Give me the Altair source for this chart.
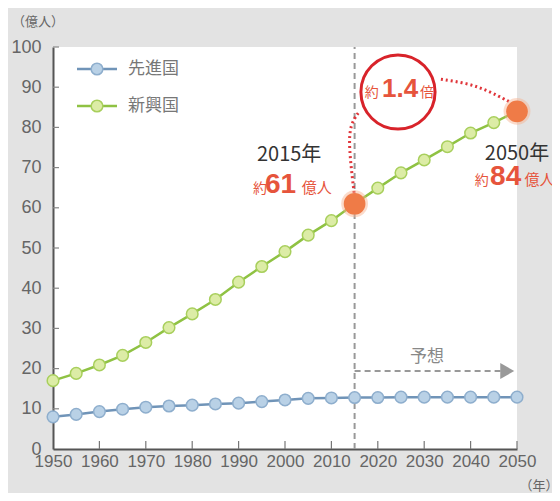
import altair as alt
import pandas as pd

years = [1950, 1955, 1960, 1965, 1970, 1975, 1980, 1985, 1990, 1995, 2000,
         2005, 2010, 2015, 2020, 2025, 2030, 2035, 2040, 2045, 2050]
developed = [8.0, 8.6, 9.3, 9.9, 10.4, 10.7, 10.9, 11.2, 11.4, 11.8, 12.2,
             12.6, 12.7, 12.8, 12.8, 12.9, 12.9, 12.9, 12.9, 12.9, 12.9]
emerging = [17.0, 18.8, 20.9, 23.3, 26.5, 30.2, 33.6, 37.2, 41.5, 45.4, 49.1,
            53.2, 56.8, 61.0, 64.9, 68.7, 71.9, 75.2, 78.6, 81.2, 84.0]
y_ticks = [0, 10, 20, 30, 40, 50, 60, 70, 80, 90, 100]
x_ticks = [1950, 1960, 1970, 1980, 1990, 2000, 2010, 2020, 2030, 2040, 2050]
highlight_years = [2015, 2050]
highlight_values = [61, 84]

W, H = 464, 402
FONT = "Liberation Sans Narrow, Liberation Sans, Arial, sans-serif"
BOLD = "Liberation Sans, Arial, sans-serif"
JP = "Noto Sans CJK JP, sans-serif"
RED = "#e6543c"

df = pd.DataFrame({"year": years, "先進国": developed, "新興国": emerging})

xs = alt.Scale(domain=[1950, 2050], nice=False, zero=False)
ys = alt.Scale(domain=[0, 100], nice=False)

X = alt.X("year:Q", scale=xs, axis=alt.Axis(values=x_ticks, format="d", title=None,
          ticks=False, tickSize=0, labelPadding=4, labelFontSize=17, labelFont=FONT,
          labelFlush=False, labelOverlap=False,
          labelColor="#666", domainColor="#555", domainWidth=2, grid=False))
Y = alt.Y("value:Q", scale=ys, axis=alt.Axis(values=y_ticks, title=None,
          ticks=False, tickSize=0, labelPadding=12, labelFontSize=18, labelFont=FONT,
          labelFlush=False, labelOverlap=False,
          labelColor="#666", domainColor="#555", domainWidth=2, grid=False))

blue = df[["year", "先進国"]].rename(columns={"先進国": "value"})
green = df[["year", "新興国"]].rename(columns={"新興国": "value"})

blue_line = alt.Chart(blue).mark_line(color="#7094b8", strokeWidth=2.5).encode(x=X, y=Y)
blue_pts = alt.Chart(blue).mark_point(filled=True, fill="#b9d1e6", stroke="#8eaecd",
                                      strokeWidth=1.5, size=135, opacity=1).encode(x="year:Q", y="value:Q")
green_line = alt.Chart(green).mark_line(color="#8fc243", strokeWidth=2.5).encode(x="year:Q", y="value:Q")
green_pts = alt.Chart(green).mark_point(filled=True, fill="#dcecA6", stroke="#a8cf5c",
                                        strokeWidth=1.5, size=135, opacity=1).encode(x="year:Q", y="value:Q")

# inward ticks
ytick_df = pd.DataFrame({"v": y_ticks[1:]})
ytick = alt.Chart(ytick_df).mark_rule(color="#888", strokeWidth=1.2).encode(
    y="v:Q", x=alt.value(0), x2=alt.value(6))
xtick_df = pd.DataFrame({"yr": x_ticks[1:]})
xtick = alt.Chart(xtick_df).mark_rule(color="#777", strokeWidth=1.2).encode(
    x="yr:Q", y=alt.value(H), y2=alt.value(H - 8))

# vertical dashed line at 2015
vline = alt.Chart(pd.DataFrame({"yr": [2015], "a": [0], "b": [100]})).mark_rule(
    color="#999", strokeWidth=2, strokeDash=[6, 4]).encode(x="yr:Q", y="a:Q", y2="b:Q")

# forecast arrow
arrow = alt.Chart(pd.DataFrame({"a": [2015], "b": [2046.5], "v": [19.4]})).mark_rule(
    color="#999", strokeWidth=2, strokeDash=[6, 4]).encode(x="a:Q", x2="b:Q", y="v:Q")
arrow_head = alt.Chart(pd.DataFrame({"yr": [2047.9], "v": [19.4]})).mark_point(
    shape="triangle-right", filled=True, color="#999", size=260, opacity=1).encode(x="yr:Q", y="v:Q")
forecast_txt = alt.Chart(pd.DataFrame({"yr": [2030.6], "v": [22.9], "t": ["予想"]})).mark_text(
    font=JP, fontSize=17, color="#888").encode(x="yr:Q", y="v:Q", text="t:N")

# dotted red curves
c1 = pd.DataFrame({"yr": [2014.9, 2013.7, 2014.1, 2015.8], "v": [63.7, 75.5, 80.8, 83.6], "o": [0, 1, 2, 3]})
c2 = pd.DataFrame({"yr": [2033.6, 2039.2, 2043.5, 2048.5], "v": [92.0, 91.0, 89.3, 86.3], "o": [0, 1, 2, 3]})
curve1 = alt.Chart(c1).mark_line(color="#e0353a", strokeWidth=3, strokeDash=[2, 3],
                                 interpolate="basis").encode(x="yr:Q", y="v:Q", order="o:Q")
curve2 = alt.Chart(c2).mark_line(color="#e0353a", strokeWidth=3, strokeDash=[2, 3],
                                 interpolate="basis").encode(x="yr:Q", y="v:Q", order="o:Q")

# circle annotation
ring = alt.Chart(pd.DataFrame({"yr": [2024.35], "v": [88.8]})).mark_point(
    shape="circle", filled=False, fill="white", fillOpacity=1, stroke="#d8232a",
    strokeWidth=3, size=5500, opacity=1).encode(x="yr:Q", y="v:Q")

# highlight points
hl = pd.DataFrame({"yr": highlight_years, "v": highlight_values})
halo = alt.Chart(hl).mark_point(filled=True, color="#f7b08c", size=720, opacity=0.45).encode(x="yr:Q", y="v:Q")
hl_pts = alt.Chart(hl).mark_point(filled=True, color="#ef7b47", size=470, opacity=1).encode(x="yr:Q", y="v:Q")


def txt(t, yr, v, size, color, align="left", weight="normal", font=JP, baseline="alphabetic"):
    return alt.Chart(pd.DataFrame({"yr": [yr], "v": [v], "t": [t]})).mark_text(
        font=font, fontSize=size, color=color, align=align, fontWeight=weight,
        baseline=baseline).encode(x="yr:Q", y="v:Q", text="t:N")


texts = [
    txt("2015年", 2000.9, 71.6, 20, "#333", align="center"),
    txt("約", 1993.1, 63.7, 14, RED),
    txt("61", 1995.7, 63.7, 28, RED, weight="bold", font=BOLD),
    txt("億人", 2003.6, 63.7, 15, RED),
    txt("2050年", 2050.0, 71.9, 20, "#333", align="center"),
    txt("約", 2040.9, 65.7, 14, RED),
    txt("84", 2044.2, 65.7, 28, RED, weight="bold", font=BOLD),
    txt("億人", 2051.6, 65.7, 15, RED),
    txt("約", 2017.2, 87.6, 14, RED),
    txt("1.4", 2020.9, 87.6, 26, RED, weight="bold", font=BOLD),
    txt("倍", 2029.1, 87.6, 14, RED),
]

# legend
leg_rows = pd.DataFrame({"lab": ["先進国", "新興国"], "py": [22, 59]})
leg_blue_line = alt.Chart(pd.DataFrame({"a": [0]})).mark_rule(color="#7094b8", strokeWidth=2.5).encode(
    x=alt.value(24), x2=alt.value(64), y=alt.value(22))
leg_green_line = alt.Chart(pd.DataFrame({"a": [0]})).mark_rule(color="#8fc243", strokeWidth=2.5).encode(
    x=alt.value(24), x2=alt.value(64), y=alt.value(59))
leg_blue_pt = alt.Chart(pd.DataFrame({"a": [0]})).mark_point(filled=True, fill="#b9d1e6", stroke="#8eaecd",
                                                             strokeWidth=1.5, size=135, opacity=1).encode(
    x=alt.value(44), y=alt.value(22))
leg_green_pt = alt.Chart(pd.DataFrame({"a": [0]})).mark_point(filled=True, fill="#dcecA6", stroke="#a8cf5c",
                                                              strokeWidth=1.5, size=135, opacity=1).encode(
    x=alt.value(44), y=alt.value(59))
leg_txt = alt.Chart(leg_rows).mark_text(font=JP, fontSize=17, color="#777", align="left",
                                        baseline="middle").encode(
    x=alt.value(75), y=alt.Y("py:Q", scale=None), text="lab:N")

# axis unit titles
unit_y = alt.Chart(pd.DataFrame({"t": ["（億人）"]})).mark_text(
    font=JP, fontSize=13, color="#666", align="center", baseline="middle").encode(
    x=alt.value(-15), y=alt.value(-25), text="t:N")
unit_x = alt.Chart(pd.DataFrame({"t": ["（年）"]})).mark_text(
    font=JP, fontSize=13, color="#666", align="center", baseline="middle").encode(
    x=alt.value(486), y=alt.value(439), text="t:N")

chart = alt.layer(
    blue_line, ytick, xtick, vline, arrow, arrow_head, forecast_txt,
    blue_pts, green_line, green_pts, curve1, curve2, ring, halo, hl_pts,
    *texts, leg_blue_line, leg_green_line, leg_blue_pt, leg_green_pt, leg_txt,
    unit_y, unit_x,
).properties(
    width=W, height=H,
    background="#e3e3e3",
    padding={"left": 45, "top": 39, "right": 35, "bottom": 44},
    autosize=alt.AutoSizeParams(type="none"),
).configure_view(fill="white", stroke=None, clip=False)

chart.save("out.html", embed_options={"renderer": "svg", "actions": False})
